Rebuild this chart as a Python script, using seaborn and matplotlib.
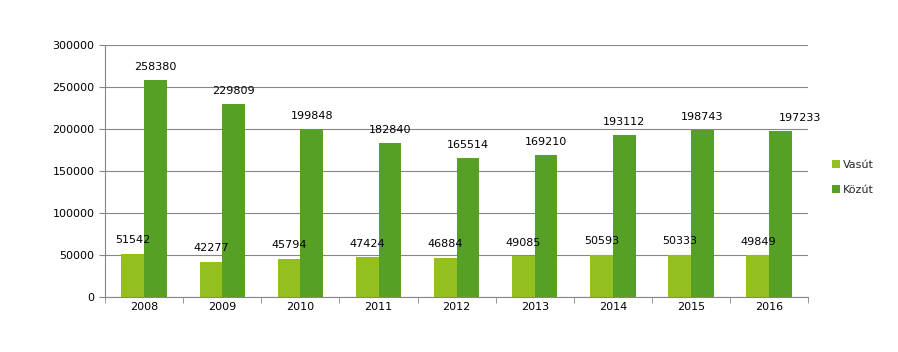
import pandas as pd
import numpy as np
import matplotlib
matplotlib.use('Agg')
import matplotlib.pyplot as plt
import seaborn as sns

years = ['2008', '2009', '2010', '2011', '2012', '2013', '2014', '2015', '2016']
vasut = [51542, 42277, 45794, 47424, 46884, 49085, 50593, 50333, 49849]
kozut = [258380, 229809, 199848, 182840, 165514, 169210, 193112, 198743, 197233]
series = ['Vasút', 'Közút']
colors = ['#93C01F', '#56A125']

df = pd.DataFrame({'year': years * 2,
                   'value': vasut + kozut,
                   'series': [series[0]] * len(years) + [series[1]] * len(years)})

sns.set_style('white')
plt.rcParams['font.family'] = ['DejaVu Sans']

fig = plt.figure(figsize=(8.98, 3.52), dpi=100)
ax = fig.add_axes([0.117, 0.156, 0.783, 0.716])

sns.barplot(data=df, x='year', y='value', hue='series', palette=colors,
            width=0.58, saturation=1, linewidth=0, edgecolor='none', ax=ax)

for i, c in enumerate(ax.containers):
    anns = ax.bar_label(c, labels=[f'{int(v)}' for v in c.datavalues],
                        padding=6, fontsize=8, color='black')
    if i == 1:
        # the last label sits a bit to the right in the original
        anns[-1].xyann = (14, anns[-1].xyann[1])

ax.set_ylim(0, 300000)
ax.set_yticks(np.arange(0, 300001, 50000))
ax.yaxis.grid(True, color='#868686', linewidth=0.8)
ax.set_axisbelow(True)
ax.set_xlabel('')
ax.set_ylabel('')
ax.tick_params(axis='both', labelsize=8, labelcolor='black')
ax.tick_params(axis='y', length=4, color='#868686', left=True)
ax.set_xticks(np.arange(-0.5, len(years), 1), minor=True)
ax.tick_params(axis='x', which='major', length=0)
ax.tick_params(axis='x', which='minor', length=4, color='#868686', bottom=True)
for s in ['top', 'right']:
    ax.spines[s].set_visible(False)
for s in ['left', 'bottom']:
    ax.spines[s].set_color('#868686')
    ax.spines[s].set_linewidth(0.8)
ax.set_xlim(-0.5, len(years) - 0.5)

ax.legend(loc='center left', bbox_to_anchor=(1.02, 0.475), frameon=False, fontsize=8,
          handlelength=0.7, handleheight=0.7, handletextpad=0.3, labelspacing=1.3)

fig.savefig('out.png', dpi=100)
